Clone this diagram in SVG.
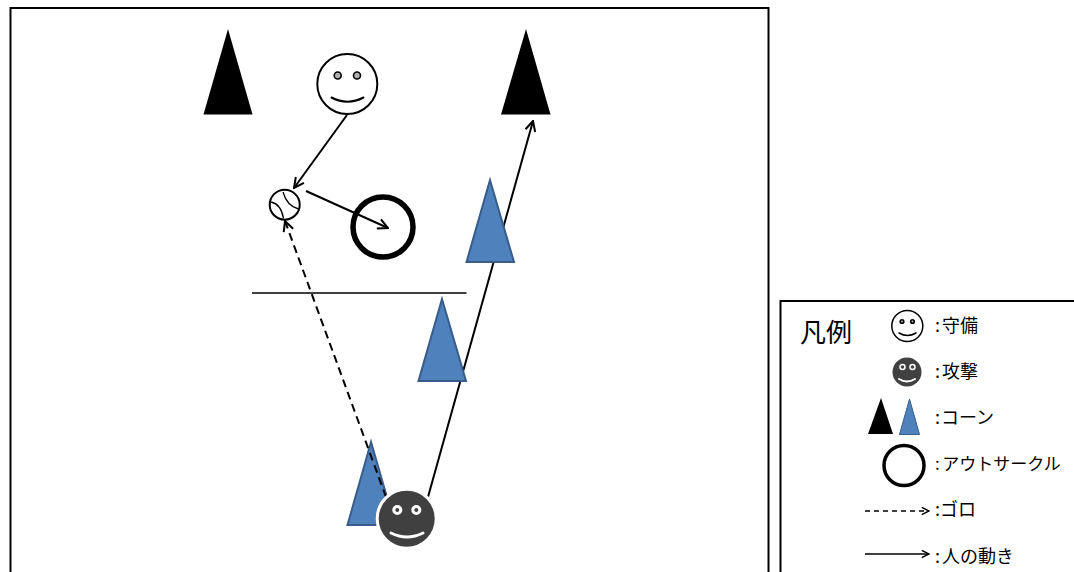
<svg xmlns="http://www.w3.org/2000/svg" width="1074" height="572" viewBox="0 0 1074 572">
<style>
text{font-family:"Noto Sans CJK JP","Liberation Sans",sans-serif;fill:#000}
.t{font-size:18px}
.frame{fill:#fff;stroke:#000;stroke-width:2}
.black{fill:#000}
.blue{fill:#4f81bd;stroke:#385d8a;stroke-width:2}
.line{fill:none;stroke:#000;stroke-width:2}
.dash{stroke-dasharray:8 5}
.thin{fill:none;stroke:#000;stroke-width:1.3}
.def{fill:#fff;stroke:#000;stroke-width:2}
.atk{fill:#404040;stroke:#fff;stroke-width:3}
.eye{fill:#b0b0b0;stroke:#000;stroke-width:1.6}
.aeye{fill:#404040;stroke:#fff;stroke-width:3}
.ms{fill:none;stroke:#000;stroke-width:2;stroke-linecap:round}
.as{fill:none;stroke:#fff;stroke-width:3;stroke-linecap:round}
</style>
<defs>
<marker id="arr" viewBox="0 0 12 12" refX="11" refY="6" markerWidth="12" markerHeight="12" markerUnits="userSpaceOnUse" orient="auto"><path d="M1 1L11 6L1 11" fill="none" stroke="#000" stroke-width="2"/></marker>
<marker id="arrS" viewBox="0 0 10 10" refX="9" refY="5" markerWidth="9" markerHeight="9" markerUnits="userSpaceOnUse" orient="auto"><path d="M1 1L9 5L1 9" fill="none" stroke="#000" stroke-width="1.6"/></marker>
</defs>
<rect id="field" class="frame" x="10.500" y="8" width="758" height="580"/>
<rect id="legend-box" class="frame" x="780.500" y="301" width="310" height="290"/>
<polygon id="cone-black-1" class="black" points="228,29 203.500,114.500 252.500,114.500"/>
<polygon id="cone-black-2" class="black" points="526,29 501,114.500 550.500,114.500"/>
<g id="connectors-behind">
<line class="line" marker-end="url(#arr)" x1="428" y1="497" x2="533" y2="121"/>
</g>
<polygon id="cone-blue-1" class="blue" points="490,180 466.500,262 514,262"/>
<polygon id="cone-blue-2" class="blue" points="442,299 418.500,381 466,381"/>
<polygon id="cone-blue-3" class="blue" points="371,442 347.500,525 395,525"/>
<g id="defender">
<circle class="def" cx="347.300" cy="84" r="30"/>
<circle class="eye" cx="337.700" cy="75.500" r="3.500"/>
<circle class="eye" cx="357" cy="75.500" r="3.500"/>
<path class="ms" d="M331.500 97.500Q347.500 106 363.500 97.500"/>
</g>
<g id="ball">
<circle class="def" cx="284.700" cy="204.700" r="15"/>
<path class="thin" d="M283 192Q287 206 298.500 209M271 202Q281 204 283.500 218.500"/>
</g>
<circle id="out-circle" cx="383" cy="227" r="30" fill="#fff" stroke="#000" stroke-width="5.500"/>
<line id="divider" stroke="#000" stroke-width="1.500" x1="252" y1="293" x2="466.500" y2="293"/>
<g id="connectors">
<line class="line" marker-end="url(#arr)" x1="347" y1="115" x2="294" y2="188"/>
<line class="line" marker-end="url(#arr)" x1="306" y1="191" x2="388" y2="228"/>
<line class="line dash" marker-end="url(#arr)" x1="386" y1="497" x2="285" y2="221"/>
</g>
<g id="attacker">
<circle class="atk" cx="406.700" cy="518.700" r="29.500"/>
<circle class="aeye" cx="397.300" cy="510" r="3.500"/>
<circle class="aeye" cx="416.300" cy="510" r="3.500"/>
<path class="as" d="M391 533Q407 541 423 533"/>
</g>
<g id="legend">
<text x="800" y="342" font-size="26">凡例</text>
<g id="legend-defender">
<circle cx="907.300" cy="326" r="15.500" fill="#fff" stroke="#000" stroke-width="1.500"/>
<circle class="eye" cx="902" cy="321.500" r="1.800" stroke-width="1"/>
<circle class="eye" cx="912.500" cy="321.500" r="1.800" stroke-width="1"/>
<path class="ms" style="stroke-width:1.500" d="M899 333Q907.500 338 916 333"/>
<text class="t" x="935" y="332">:<tspan dx="2">守備</tspan></text>
</g>
<g id="legend-attacker">
<circle cx="907" cy="372" r="14.500" fill="#404040"/>
<circle cx="902.500" cy="367" r="2.500" fill="#404040" stroke="#fff" stroke-width="1.500"/>
<circle cx="912.500" cy="367" r="2.500" fill="#404040" stroke="#fff" stroke-width="1.500"/>
<path class="as" style="stroke-width:2" d="M899 379Q907 384 915 379"/>
<text class="t" x="935" y="378">:<tspan dx="2">攻撃</tspan></text>
</g>
<g id="legend-cone">
<polygon class="black" points="881,398 868,434 893,434"/>
<polygon class="blue" style="stroke-width:1" points="909.500,399 899.500,434.500 919.500,434.500"/>
<text class="t" x="935" y="424">:<tspan dx="1">コーン</tspan></text>
</g>
<g id="legend-circle">
<circle cx="904" cy="465.500" r="20" fill="#fff" stroke="#000" stroke-width="3.500"/>
<text x="935" y="470" font-size="17">:<tspan dx="2.500">アウトサークル</tspan></text>
</g>
<g id="legend-ground">
<line stroke="#000" stroke-width="1.300" stroke-dasharray="5 4" marker-end="url(#arrS)" x1="865" y1="511" x2="929" y2="511"/>
<text class="t" x="935" y="516">:ゴロ</text>
</g>
<g id="legend-move">
<line stroke="#000" stroke-width="1.300" marker-end="url(#arrS)" x1="865" y1="554" x2="929" y2="554"/>
<text class="t" x="935" y="563">:<tspan dx="2">人の動き</tspan></text>
</g>
</g>
</svg>
